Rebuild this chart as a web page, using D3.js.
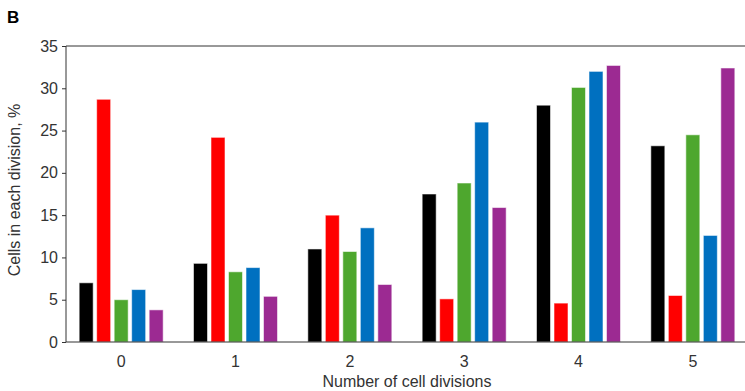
<!DOCTYPE html>
<html>
<head>
<meta charset="utf-8">
<script src="https://cdn.jsdelivr.net/npm/d3@7"></script>
<style>
  body { margin: 0; background: #fff; }
  text { font-family: "Liberation Sans", Arial, sans-serif; }
</style>
</head>
<body>
<div id="chart"></div>
<script>
// data
var divisions = ["0", "1", "2", "3", "4", "5"]
var seriesNames = ["black", "red", "green", "blue", "purple"]
var seriesColors = ["#000000", "#ff0000", "#4ea72e", "#0070c0", "#9c2a92"]
var blackVals  = [7.0, 9.3, 11.0, 17.5, 28.0, 23.2]
var redVals    = [28.7, 24.2, 15.0, 5.1, 4.6, 5.5]
var greenVals  = [5.0, 8.3, 10.7, 18.8, 30.1, 24.5]
var blueVals   = [6.2, 8.8, 13.5, 26.0, 32.0, 12.6]
var purpleVals = [3.8, 5.4, 6.8, 15.9, 32.7, 32.4]
var yTicks = [0, 5, 10, 15, 20, 25, 30, 35]

var allVals = [blackVals, redVals, greenVals, blueVals, purpleVals]

// plot edges
var width = 745,
    height = 391,
    plotLeft = 66, plotTop = 46, plotBottom = 342, plotRight = 745

var svg = d3.select("#chart")
  .append("svg")
    .attr("width", width)
    .attr("height", height)

var x0 = d3.scaleBand()
  .domain(divisions)
  .range([64, 750])

var x1 = d3.scaleBand()
  .domain(seriesNames)
  .range([-42, 42])
  .paddingInner(0.2)

var y = d3.scaleLinear()
  .domain([0, 35])
  .range([plotBottom, plotTop])

// bars
divisions.forEach(function(d, i) {
  var cx = x0(d) + x0.bandwidth() / 2
  seriesNames.forEach(function(s, j) {
    svg.append("rect")
      .attr("x", cx + x1(s))
      .attr("y", y(allVals[j][i]))
      .attr("width", x1.bandwidth())
      .attr("height", y(0) - y(allVals[j][i]))
      .attr("fill", seriesColors[j])
      .attr("stroke", "rgba(255,255,255,0.55)")
      .attr("stroke-width", 1)
  })
})

// y axis
var yAxis = svg.append("g")
  .attr("transform", "translate(" + plotLeft + ",0)")
  .call(d3.axisLeft(y).tickValues(yTicks).tickSize(4).tickPadding(4))
yAxis.select(".domain").attr("stroke", "#333").attr("d", "M0," + plotTop + "V" + plotBottom)
yAxis.selectAll(".tick line").attr("stroke", "#333")
yAxis.selectAll("text")
  .attr("fill", "#333")
  .style("font-size", "16px")
  .style("font-family", "'Liberation Sans', Arial, sans-serif")

// x axis
var xAxis = svg.append("g")
  .attr("transform", "translate(0," + plotBottom + ")")
  .call(d3.axisBottom(x0).tickSize(0).tickPadding(14))
xAxis.select(".domain").attr("stroke", "#333").attr("d", "M" + plotLeft + ",0H" + plotRight)
xAxis.selectAll("text")
  .attr("fill", "#333")
  .style("font-size", "16px")
  .style("font-family", "'Liberation Sans', Arial, sans-serif")

// top frame line
svg.append("line")
  .attr("x1", plotLeft).attr("x2", plotRight)
  .attr("y1", plotTop).attr("y2", plotTop)
  .attr("stroke", "#333")

// axis titles
svg.append("text")
  .attr("x", 407)
  .attr("y", 387)
  .attr("text-anchor", "middle")
  .attr("fill", "#333")
  .style("font-size", "16px")
  .text("Number of cell divisions")

svg.append("text")
  .attr("transform", "translate(20,190) rotate(-90)")
  .attr("text-anchor", "middle")
  .attr("fill", "#333")
  .style("font-size", "16px")
  .text("Cells in each division, %")

svg.append("text")
  .attr("x", 7)
  .attr("y", 23)
  .attr("fill", "#000")
  .style("font-size", "17px")
  .style("font-weight", "bold")
  .text("B")
</script>
</body>
</html>
